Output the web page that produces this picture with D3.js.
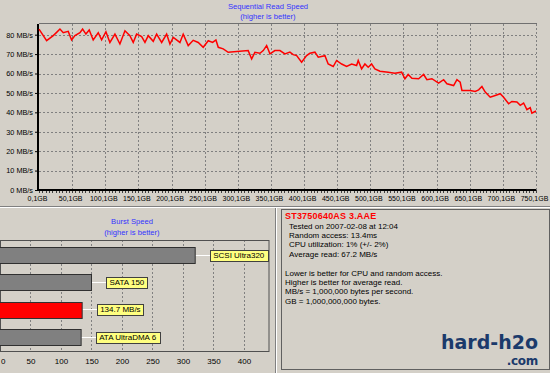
<!DOCTYPE html>
<html>
<head>
<meta charset="utf-8">
<script src="https://cdn.jsdelivr.net/npm/d3@7"></script>
<style>
  body { margin: 0; background: #d4d0c8; }
  svg { display: block; font-family: "Liberation Sans", Arial, sans-serif; }
</style>
</head>
<body>
<div id="chart"></div>
<script>
// sequential read trace (position in GB, speed in MB/s)
var readGB = [0.1, 11.6, 21.6, 26.7, 31.7, 36.7, 44.2, 49.3, 54.3, 61.9, 65.9, 70.9, 75.9, 81.9,
  89.5, 94.6, 101.1, 107.1, 114.7, 122.2, 129.8, 137.3, 142.3, 147.4, 155, 160, 165, 172.5,
  177.6, 185.2, 192.7, 197.7, 202.7, 212.8, 217.7, 225.3, 232.8, 240.4, 247.9, 255.5, 262.1,
  267.1, 270.6, 278.1, 285.6, 315.8, 321, 325.9, 333.5, 338.5, 343.6, 348.6, 356.1, 363.7,
  371.2, 378.7, 383.7, 388.9, 396.4, 403.9, 408.9, 416.5, 421.5, 431.6, 436.5, 444.1, 449.2,
  456.8, 464.3, 471.9, 479.4, 481.8, 486.9, 491.9, 496.9, 502, 507, 514.6, 527.1, 537.2,
  547.3, 552.3, 557.2, 562.8, 573, 580.5, 585.5, 593, 603.1, 610.7, 615.7, 625.8, 630.8,
  635.7, 638.3, 650.8, 658.4, 663.5, 668.5, 673.5, 681, 688.6, 696.1, 701.2, 708.8, 713.7,
  721.3, 726.3, 731.4, 736.4, 741.4, 743.9, 750.1];
var readMBs = [82.9, 76.9, 79.5, 81.2, 82.9, 81, 81.7, 77.3, 79.5, 81, 82.9, 80.3, 82.4, 77.3,
  81, 77.3, 81.5, 76, 80.3, 75.2, 82, 79.5, 76, 80.3, 79, 76, 79.5, 76.6,
  80.3, 76, 80.3, 75.2, 78.6, 76, 80.3, 74.4, 77.1, 76, 73.5, 76.9, 76,
  77.3, 73.5, 72.7, 70.9, 71.8, 67.5, 70.9, 70.4, 71.8, 74.4, 70.1, 71.8, 71.8,
  70.1, 71, 69.7, 69.2, 65.8, 69.2, 70.4, 71, 68.4, 69.2, 64.9, 63.6, 66.7,
  64.9, 63.6, 64.9, 64.1, 66.7, 62.4, 64.9, 63.2, 64.9, 62.4, 61.2, 60.7, 60.2,
  60.7, 57.3, 59.5, 57.6, 57.3, 59.5, 56.8, 57.3, 55, 56.8, 54.7, 53.8, 56.8,
  55.5, 51.3, 51.3, 50.8, 51.6, 53.3, 50.4, 47.8, 48.7, 49.6, 47.8, 44.4, 45.6,
  45.3, 43.6, 44.8, 41.4, 42.4, 39.6, 40.7];
var gbTicks = [0.1, 50.1, 100.1, 150.1, 200.1, 250.1, 300.1, 350.1, 400.1, 450.1, 500.1,
  550.1, 600.1, 650.1, 700.1, 750.1];
var mbTicks = [0, 10, 20, 30, 40, 50, 60, 70, 80];

// burst speed panel
var burstNames = ["SCSI Ultra320", "SATA 150", "ST3750640AS", "ATA UltraDMA 6"];
var burstValues = [320, 150, 134.7, 133];
var burstLabels = ["SCSI Ultra320", "SATA 150", "134.7 MB/s", "ATA UltraDMA 6"];
var burstTicks = [0, 50, 100, 150, 200, 250, 300, 350, 400];

// info panel
var infoHead = "ST3750640AS 3.AAE";
var infoLines = ["Tested on 2007-02-08 at 12:04", "Random access: 13.4ms",
  "CPU utilization: 1% (+/- 2%)", "Average read: 67.2 MB/s"];
var noteLines = ["Lower is better for CPU and random access.", "Higher is better for average read.",
  "MB/s = 1,000,000 bytes per second.", "GB = 1,000,000,000 bytes."];

var svgWidth = 550;
var svgHeight = 373;
var blue = "#3333ff";

var svg = d3.select("#chart")
  .append("svg")
  .attr("width", svgWidth)
  .attr("height", svgHeight);

svg.append("rect").attr("width", svgWidth).attr("height", svgHeight).attr("fill", "#d4d0c8");

// ---------- top chart ----------
var x = d3.scaleLinear().domain([0.1, 750.1]).range([39, 536]);
var y = d3.scaleLinear().domain([0, 85.5]).range([190, 24]);

svg.append("text").attr("x", 268).attr("y", 9).attr("text-anchor", "middle")
  .attr("font-size", "7.6px").attr("fill", blue).text("Sequential Read Speed");
svg.append("text").attr("x", 268).attr("y", 19).attr("text-anchor", "middle")
  .attr("font-size", "7.6px").attr("fill", blue).text("(higher is better)");

var grid = svg.append("g").attr("stroke", "#808080").attr("stroke-dasharray", "2,2");
grid.selectAll("line.h")
  .data(mbTicks.filter(d => d > 0))
  .enter().append("line")
  .attr("x1", 39).attr("x2", 536)
  .attr("y1", d => Math.round(y(d)) + 0.5).attr("y2", d => Math.round(y(d)) + 0.5);
grid.selectAll("line.v")
  .data(gbTicks.slice(1))
  .enter().append("line")
  .attr("y1", 24).attr("y2", 190)
  .attr("x1", d => Math.round(x(d)) + 0.5).attr("x2", d => Math.round(x(d)) + 0.5);

// top border
svg.append("line").attr("x1", 39).attr("x2", 537).attr("y1", 23.5).attr("y2", 23.5)
  .attr("stroke", "#707070");

// minor ticks along the GB axis
svg.append("g").selectAll("line")
  .data(d3.range(0.1, 751, 5))
  .enter().append("line")
  .attr("x1", d => Math.round(x(d)) + 0.5).attr("x2", d => Math.round(x(d)) + 0.5)
  .attr("y1", 190).attr("y2", 193)
  .attr("stroke", "#404040");

var bottomAxis = d3.axisBottom(x).tickValues(gbTicks).tickSize(0).tickPadding(6)
  .tickFormat(d => String(d).replace(".", ",") + "GB");
var axB = svg.append("g").attr("transform", "translate(0,190)").call(bottomAxis);
axB.select(".domain").remove();
axB.selectAll("text").attr("font-size", "7px").attr("fill", "#000").attr("dx", "-2")
  .attr("font-family", "Liberation Sans, Arial, sans-serif");

var leftAxis = d3.axisLeft(y).tickValues(mbTicks).tickSize(3).tickPadding(2)
  .tickFormat(d => d + " MB/s");
var axL = svg.append("g").attr("transform", "translate(38,0)").call(leftAxis);
axL.select(".domain").remove();
axL.selectAll("text").attr("font-size", "7.3px").attr("fill", "#000")
  .attr("font-family", "Liberation Sans, Arial, sans-serif");

svg.append("line").attr("x1", 38).attr("x2", 536).attr("y1", 190).attr("y2", 190)
  .attr("stroke", "#000").attr("stroke-width", 2);
svg.append("line").attr("x1", 38).attr("x2", 38).attr("y1", 24).attr("y2", 191)
  .attr("stroke", "#000").attr("stroke-width", 2);

var readData = readGB.map((g, i) => ({ gb: g, v: readMBs[i] }));
svg.append("path")
  .datum(readData)
  .attr("fill", "none")
  .attr("stroke", "#ff0000")
  .attr("stroke-width", 1.5)
  .attr("d", d3.line().x(d => x(d.gb)).y(d => y(d.v)));

// separator between top and bottom
svg.append("line").attr("x1", 0).attr("x2", 550).attr("y1", 206.5).attr("y2", 206.5).attr("stroke", "#808080");
svg.append("line").attr("x1", 0).attr("x2", 550).attr("y1", 207.5).attr("y2", 207.5).attr("stroke", "#fff");

// ---------- burst speed panel ----------
var bx = d3.scaleLinear().domain([0, 441]).range([0, 269]);
var by = d3.scaleBand().domain(burstNames).range([240, 351.7]).paddingInner(0.426).paddingOuter(0.27);

svg.append("text").attr("x", 132).attr("y", 223.5).attr("text-anchor", "middle")
  .attr("font-size", "7.6px").attr("fill", blue).text("Burst Speed");
svg.append("text").attr("x", 132).attr("y", 234.5).attr("text-anchor", "middle")
  .attr("font-size", "7.6px").attr("fill", blue).text("(higher is better)");

svg.append("g").attr("stroke", "#808080").attr("stroke-dasharray", "2,2")
  .selectAll("line")
  .data(burstTicks.slice(1))
  .enter().append("line")
  .attr("x1", d => Math.round(bx(d)) + 0.5).attr("x2", d => Math.round(bx(d)) + 0.5)
  .attr("y1", 240).attr("y2", 351);

svg.append("rect").attr("x", 0.5).attr("y", 240.5).attr("width", 268.5).attr("height", 111)
  .attr("fill", "none").attr("stroke", "#505050");

var burstAxis = d3.axisBottom(bx).tickValues(burstTicks).tickSize(0).tickPadding(6);
var axBurst = svg.append("g").attr("transform", "translate(0,352)").call(burstAxis);
axBurst.select(".domain").remove();
axBurst.selectAll("text").attr("font-size", "8px").attr("fill", "#000")
  .attr("font-family", "Liberation Sans, Arial, sans-serif")
  .attr("text-anchor", d => d === 0 ? "start" : "middle")
  .attr("dx", d => d === 0 ? "0.5" : "0");

var burstData = burstNames.map((n, i) => ({ name: n, value: burstValues[i], label: burstLabels[i] }));

var rows = svg.append("g").selectAll("g")
  .data(burstData)
  .enter().append("g");

rows.append("line")
  .attr("x1", d => bx(d.value)).attr("x2", d => bx(d.value) + 15)
  .attr("y1", d => Math.round(by(d.name) + by.bandwidth() / 2) + 0.5)
  .attr("y2", d => Math.round(by(d.name) + by.bandwidth() / 2) + 0.5)
  .attr("stroke", "#fff");

rows.append("rect")
  .attr("x", -1)
  .attr("y", d => Math.round(by(d.name)) + 0.5)
  .attr("width", d => bx(d.value) + 1)
  .attr("height", Math.round(by.bandwidth()))
  .attr("fill", d => d.name === "ST3750640AS" ? "#ff0000" : "#808080")
  .attr("stroke", "#303030");

rows.append("text")
  .attr("class", "lbl")
  .attr("x", d => bx(d.value) + 18)
  .attr("y", d => by(d.name) + by.bandwidth() / 2 + 3)
  .attr("font-size", "8px")
  .attr("fill", "#000")
  .text(d => d.label);

rows.each(function() {
  var g = d3.select(this);
  var t = g.select("text.lbl");
  var bb = t.node().getBBox();
  g.insert("rect", "text.lbl")
    .attr("x", Math.round(bb.x - 3) + 0.5)
    .attr("y", Math.round(bb.y) - 0.5)
    .attr("width", Math.round(bb.width + 6))
    .attr("height", 11)
    .attr("fill", "#ffff80")
    .attr("stroke", "#404040");
});

// divider between the two bottom panels
svg.append("line").attr("x1", 275.5).attr("x2", 275.5).attr("y1", 208).attr("y2", 373).attr("stroke", "#808080");
svg.append("line").attr("x1", 276.5).attr("x2", 276.5).attr("y1", 208).attr("y2", 373).attr("stroke", "#fff");

// ---------- info panel ----------
svg.append("rect").attr("x", 281.5).attr("y", 209.5).attr("width", 268).attr("height", 160)
  .attr("fill", "#d4d0c8").attr("stroke", "#606060");

svg.append("text").attr("x", 285).attr("y", 219)
  .attr("font-size", "9px").attr("font-weight", "bold").attr("fill", "#ff0000")
  .attr("letter-spacing", "0.2px")
  .text(infoHead);

svg.append("g").selectAll("text")
  .data(infoLines)
  .enter().append("text")
  .attr("x", 289)
  .attr("y", (d, i) => 228.5 + i * 9.4)
  .attr("font-size", "8px").attr("fill", "#000")
  .text(d => d);

svg.append("g").selectAll("text")
  .data(noteLines)
  .enter().append("text")
  .attr("x", 285)
  .attr("y", (d, i) => 275.5 + i * 9.4)
  .attr("font-size", "8px").attr("fill", "#000")
  .text(d => d);

// site logo
svg.append("text").attr("x", 538).attr("y", 348.5).attr("text-anchor", "end")
  .attr("font-family", "DejaVu Sans, sans-serif").attr("font-weight", "bold")
  .attr("font-size", "19px").attr("fill", "#1b3a6b").text("hard-h2o");
svg.append("text").attr("x", 538).attr("y", 364.5).attr("text-anchor", "end")
  .attr("font-family", "DejaVu Sans, sans-serif").attr("font-weight", "bold")
  .attr("font-size", "12px").attr("letter-spacing", "-0.3px")
  .attr("fill", "#1b3a6b").text(".com");
</script>
</body>
</html>
